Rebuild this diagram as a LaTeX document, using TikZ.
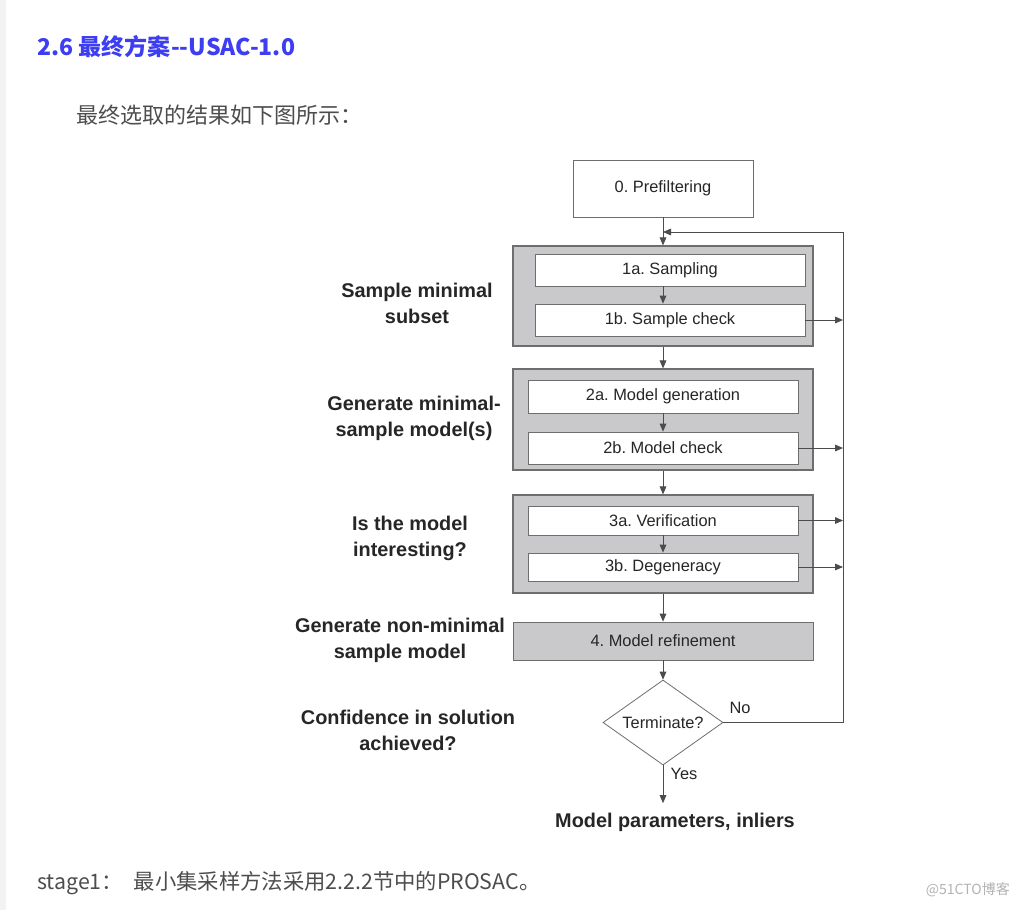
\documentclass[tikz,border=0pt]{standalone}
\usepackage{fontspec}
\setmainfont{Liberation Sans}
\newfontfamily\cjk{Noto Sans CJK SC}
\usetikzlibrary{arrows.meta,shapes.geometric,positioning}
\definecolor{title_blue}{HTML}{3D3DF2}
\definecolor{body_grey}{HTML}{4D4D4D}
\definecolor{group_grey}{HTML}{C9C9CB}
\definecolor{line_grey}{HTML}{6E6E6E}
\definecolor{side_grey}{HTML}{F2F3F5}
\frenchspacing

\begin{document}
\begin{tikzpicture}[x=0.75pt,y=-0.75pt,
    every node/.style={inner sep=0pt},
    group/.style={draw=line_grey,fill=group_grey,line width=0.9pt,minimum width=225pt},
    stepbox/.style={draw=line_grey,fill=white,line width=0.6pt,minimum width=202.5pt,
      font=\fontsize{12.3}{14}\selectfont,text=black!85},
    sidelabel/.style={align=center,font=\fontsize{14.9}{19.5}\selectfont\bfseries,text=black!85},
    flow/.style={draw=black!70,line width=0.6pt,-{Triangle[length=6pt,width=5pt]}}]

    % Page
    \fill[white] (0,0) rectangle (1020,910);
    \fill[side_grey] (0,0) rectangle (6,910);

    % Texte
    \node[anchor=west,text=title_blue,font=\cjk\bfseries\fontsize{17.3}{22}\selectfont] (title) at (37,47) {2.6 最终方案--USAC-1.0};
    \node[anchor=west,text=body_grey,font=\cjk\fontsize{16.5}{20}\selectfont] (intro) at (76,115) {最终选取的结果如下图所示：};
    \node[anchor=west,text=body_grey,font=\cjk\fontsize{16}{20}\selectfont] (stage) at (37,883) {stage1：\hspace{8pt}最小集采样方法采用2.2.2节中的PROSAC。};
    \node[anchor=east,text=black!30,font=\cjk\fontsize{10.5}{12}\selectfont] (mark) at (1010,890) {@51CTO博客};

    % Etape 0
    \node[stepbox,minimum width=135pt,minimum height=42.75pt] (pre) at (663,188.5) {0. Prefiltering};

    % Etape 1
    \node[group,minimum height=75pt] (grp1) at (663,296) {};
    \node[stepbox,minimum height=24pt] (samp) at (670,270) {1a. Sampling};
    \node[stepbox,minimum height=24pt] (check1) at (670,320) {1b. Sample check};

    % Etape 2
    \node[group,minimum height=75.75pt] (grp2) at (663,419.5) {};
    \node[stepbox,minimum height=24.75pt] (gen) at (663,396.5) {2a. Model generation};
    \node[stepbox,minimum height=24pt] (check2) at (663,448) {2b. Model check};

    % Etape 3
    \node[group,minimum height=73.5pt] (grp3) at (663,544) {};
    \node[stepbox,minimum height=21.75pt] (verif) at (663,520.5) {3a. Verification};
    \node[stepbox,minimum height=21pt] (degen) at (663,567) {3b. Degeneracy};

    % Etape 4
    \node[stepbox,fill=group_grey,minimum width=225pt,minimum height=28.5pt] (refine) at (663,641) {4. Model refinement};

    % Test
    \node[draw=line_grey,line width=0.6pt,diamond,aspect=1.4,minimum width=90pt,minimum height=63.75pt,
      font=\fontsize{12.3}{14}\selectfont,text=black!85] (term) at (663,722.5) {Terminate?};
    \node[font=\fontsize{14.9}{17}\selectfont\bfseries,text=black!85] (result) at (675,822) {Model parameters, inliers};
    \node[font=\fontsize{12.3}{14}\selectfont,text=black!85] (no) at (740,708) {No};
    \node[font=\fontsize{12.3}{14}\selectfont,text=black!85] (yes) at (684,774) {Yes};

    % Etiquettes de gauche
    \node[sidelabel] (lab1) at (417,303) {Sample minimal\\subset};
    \node[sidelabel] (lab2) at (414,418.5) {Generate minimal-\\sample model(s)};
    \node[sidelabel] (lab3) at (410,538) {Is the model\\interesting?};
    \node[sidelabel] (lab4) at (400,640) {Generate non-minimal\\sample model};
    \node[sidelabel] (lab5) at (408,730) {Confidence in solution\\achieved?};

    % Fleches
    \coordinate (rail) at (843,232);
    \draw[flow] (pre) -- (grp1);
    \draw[flow] (samp.south -| grp1.north) -- (check1.north -| grp1.north);
    \draw[flow] (grp1) -- (grp2);
    \draw[flow] (gen) -- (check2);
    \draw[flow] (grp2) -- (grp3);
    \draw[flow] (verif) -- (degen);
    \draw[flow] (grp3) -- (refine);
    \draw[flow] (refine) -- (term);
    \draw[flow,shorten >=7pt] (term.south) -- (term.south |- result.north);
    \foreach \stagebox in {check1,check2,verif,degen}
      \draw[flow] (\stagebox.east) -- (\stagebox.east -| rail);
    \draw[flow] (term.east) -- (term.east -| rail) -- (rail) -- (rail -| pre.south);

\end{tikzpicture}
\end{document}
